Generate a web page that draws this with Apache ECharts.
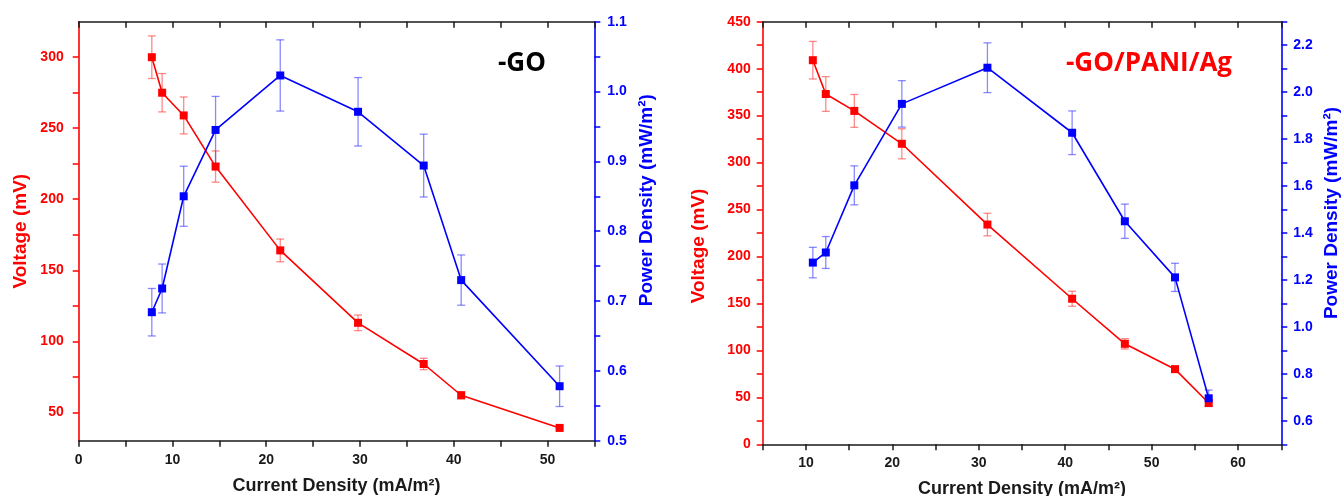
<!DOCTYPE html>
<html>
<head>
<meta charset="utf-8">
<script src="https://cdn.jsdelivr.net/npm/echarts@6/dist/echarts.min.js"></script>
<style>
html,body{margin:0;padding:0;background:#fff;}
#chart{width:1341px;height:496px;}
</style>
</head>
<body>
<div id="chart"></div>
<script>
// ---- Left panel: -GO ----
const goCurrent      = [7.8, 8.9, 11.2, 14.6, 21.5, 29.8, 36.8, 40.8, 51.3];
const goVoltage      = [300, 275, 259, 223, 164, 113, 84, 62, 39];
const goVoltageErr   = [15, 13.5, 13, 11, 8, 5.5, 4, 2.5, 1];
const goPower        = [0.684, 0.718, 0.850, 0.945, 1.023, 0.971, 0.894, 0.730, 0.578];
const goPowerErr     = [0.034, 0.035, 0.043, 0.048, 0.051, 0.049, 0.045, 0.036, 0.029];

// ---- Right panel: -GO/PANI/Ag ----
const gpCurrent      = [10.8, 12.3, 15.6, 21.1, 31.0, 40.8, 46.9, 52.7, 56.6];
const gpVoltage      = [409, 373, 355, 320, 234, 155, 107, 80, 44];
const gpVoltageErr   = [20, 18.5, 17.5, 16, 12, 8, 5.5, 3, 3];
const gpPower        = [1.274, 1.317, 1.603, 1.950, 2.104, 1.827, 1.450, 1.211, 0.696];
const gpPowerErr     = [0.065, 0.068, 0.083, 0.099, 0.106, 0.093, 0.073, 0.060, 0.035];

// ---- Tick / label values ----
const goXTicks  = [0, 5, 10, 15, 20, 25, 30, 35, 40, 45, 50, 55];
const goXLabels = [0, 10, 20, 30, 40, 50];
const goVTicks  = [50, 75, 100, 125, 150, 175, 200, 225, 250, 275, 300];
const goVLabels = [50, 100, 150, 200, 250, 300];
const goPTicks  = [0.5, 0.55, 0.6, 0.65, 0.7, 0.75, 0.8, 0.85, 0.9, 0.95, 1.0, 1.05, 1.1];
const goPLabels = [0.5, 0.6, 0.7, 0.8, 0.9, 1.0, 1.1];

const gpXTicks  = [5, 10, 15, 20, 25, 30, 35, 40, 45, 50, 55, 60, 65];
const gpXLabels = [10, 20, 30, 40, 50, 60];
const gpVTicks  = [0, 25, 50, 75, 100, 125, 150, 175, 200, 225, 250, 275, 300, 325, 350, 375, 400, 425, 450];
const gpVLabels = [0, 50, 100, 150, 200, 250, 300, 350, 400, 450];
const gpPTicks  = [0.5, 0.6, 0.7, 0.8, 0.9, 1.0, 1.1, 1.2, 1.3, 1.4, 1.5, 1.6, 1.7, 1.8, 1.9, 2.0, 2.1, 2.2, 2.3];
const gpPLabels = [0.6, 0.8, 1.0, 1.2, 1.4, 1.6, 1.8, 2.0, 2.2];

const RED = '#ff0000', BLUE = '#0000ff', BLACK = '#1a1a1a';
const FONT = 'Liberation Sans';

function pairs(xs, ys) { return xs.map((x, i) => [x, ys[i]]); }
function triples(xs, ys, es) { return xs.map((x, i) => [x, ys[i], es[i]]); }

function errRender(params, api) {
  const x = api.value(0), y = api.value(1), e = api.value(2);
  const hi = api.coord([x, y + e]);
  const lo = api.coord([x, y - e]);
  const cap = 4;
  const style = { stroke: api.visual('color'), lineWidth: 1.3, fill: null };
  return {
    type: 'group',
    children: [
      { type: 'line', shape: { x1: hi[0], y1: hi[1], x2: lo[0], y2: lo[1] }, style: style },
      { type: 'line', shape: { x1: hi[0] - cap, y1: hi[1], x2: hi[0] + cap, y2: hi[1] }, style: style },
      { type: 'line', shape: { x1: lo[0] - cap, y1: lo[1], x2: lo[0] + cap, y2: lo[1] }, style: style }
    ]
  };
}

function xBottom(grid, min, max, ticks, labels) {
  return {
    type: 'value', gridIndex: grid, position: 'bottom', min: min, max: max,
    name: 'Current Density (mA/m²)', nameLocation: 'middle', nameGap: 36,
    nameTextStyle: { color: BLACK, fontFamily: FONT, fontWeight: 'bold', fontSize: 18 },
    axisLine: { onZero: false, lineStyle: { color: BLACK, width: 1.6 } },
    axisTick: { show: true, inside: false, length: 6, customValues: ticks, lineStyle: { color: BLACK, width: 1.5 } },
    axisLabel: { customValues: labels, margin: 12, color: BLACK, fontFamily: FONT, fontWeight: 'bold', fontSize: 14 },
    splitLine: { show: false }
  };
}
function xTop(grid, min, max, ticks) {
  return {
    type: 'value', gridIndex: grid, position: 'top', min: min, max: max,
    axisLine: { onZero: false, lineStyle: { color: BLACK, width: 1.6 } },
    axisTick: { show: true, inside: true, length: 6, customValues: ticks, lineStyle: { color: BLACK, width: 1.5 } },
    axisLabel: { show: false },
    splitLine: { show: false }
  };
}
function yAxis(grid, pos, min, max, ticks, labels, color, name, gap, margin, padding, fmt) {
  return {
    type: 'value', gridIndex: grid, position: pos, min: min, max: max,
    name: name, nameLocation: 'middle', nameGap: gap, nameRotate: 90,
    nameTextStyle: { color: color, fontFamily: FONT, fontWeight: 'bold', fontSize: 19, padding: padding },
    axisLine: { show: true, onZero: false, lineStyle: { color: color, width: 1.6 } },
    axisTick: { show: true, inside: false, length: 6, customValues: ticks, lineStyle: { color: color, width: 1.5 } },
    axisLabel: { customValues: labels, margin: margin, color: color, fontFamily: FONT, fontWeight: 'bold', fontSize: 14,
                 formatter: fmt },
    splitLine: { show: false }
  };
}
const fmtInt = v => String(Math.round(v));
const fmt1 = v => Number(v).toFixed(1);

function lineSeries(xi, yi, data, color, z) {
  return {
    type: 'line', xAxisIndex: xi, yAxisIndex: yi, data: data,
    symbol: 'rect', symbolSize: 8, z: z,
    lineStyle: { color: color, width: 1.6 },
    itemStyle: { color: color },
    emphasis: { disabled: true }, animation: false
  };
}
function errSeries(xi, yi, data, color) {
  return {
    type: 'custom', xAxisIndex: xi, yAxisIndex: yi, data: data,
    renderItem: errRender, encode: { x: 0, y: 1 }, z: 1,
    itemStyle: { color: color }, animation: false, silent: true
  };
}

const chart = echarts.init(document.getElementById('chart'), null, { renderer: 'canvas' });
chart.setOption({
  animation: false,
  backgroundColor: '#ffffff',
  grid: [
    { left: 78.7, top: 21.7, width: 515.6, height: 419, containLabel: false, outerBoundsMode: 'none' },
    { left: 762.7, top: 21.7, width: 518.6, height: 422.6, containLabel: false, outerBoundsMode: 'none' }
  ],
  xAxis: [
    xBottom(0, 0, 55, goXTicks, goXLabels),
    xTop(0, 0, 55, goXTicks),
    xBottom(1, 5, 65, gpXTicks, gpXLabels),
    xTop(1, 5, 65, gpXTicks)
  ],
  yAxis: [
    yAxis(0, 'left', 30, 325, goVTicks, goVLabels, RED, 'Voltage (mV)', 48, 15, [0, 0, 0, 0], fmtInt),
    yAxis(0, 'right', 0.5, 1.1, goPTicks, goPLabels, BLUE, 'Power Density (mW/m²)', 43, 13, [0, 0, 0, 62], fmt1),
    yAxis(1, 'left', 0, 450, gpVTicks, gpVLabels, RED, 'Voltage (mV)', 54, 12, [0, 26, 0, 0], fmtInt),
    yAxis(1, 'right', 0.5, 2.3, gpPTicks, gpPLabels, BLUE, 'Power Density (mW/m²)', 41, 12, [0, 0, 0, 40], fmt1)
  ],
  graphic: [
    { type: 'text', left: 498, top: 51, style: { text: '-GO', fill: '#000', font: 'bold 26px "Open Sans", Lato, sans-serif' } },
    { type: 'text', left: 1066, top: 51, style: { text: '-GO/PANI/Ag', fill: RED, font: 'bold 26px "Open Sans", Lato, sans-serif' } }
  ],
  series: [
    errSeries(0, 0, triples(goCurrent, goVoltage, goVoltageErr), 'rgba(255,60,60,0.6)'),
    errSeries(0, 1, triples(goCurrent, goPower, goPowerErr), 'rgba(60,60,255,0.6)'),
    lineSeries(0, 0, pairs(goCurrent, goVoltage), RED, 3),
    lineSeries(0, 1, pairs(goCurrent, goPower), BLUE, 4),
    errSeries(2, 2, triples(gpCurrent, gpVoltage, gpVoltageErr), 'rgba(255,60,60,0.6)'),
    errSeries(2, 3, triples(gpCurrent, gpPower, gpPowerErr), 'rgba(60,60,255,0.6)'),
    lineSeries(2, 2, pairs(gpCurrent, gpVoltage), RED, 3),
    lineSeries(2, 3, pairs(gpCurrent, gpPower), BLUE, 4)
  ]
});
</script>
</body>
</html>
